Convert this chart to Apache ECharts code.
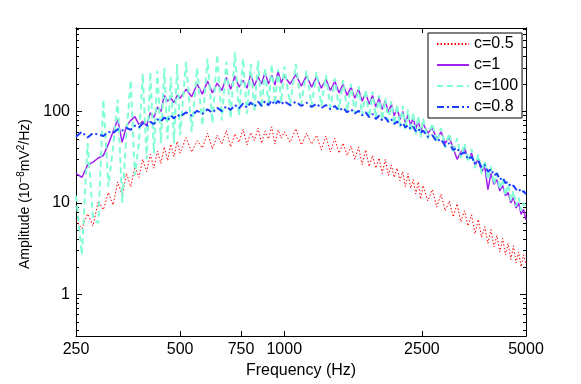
<!DOCTYPE html>
<html>
<head>
<meta charset="utf-8">
<script src="https://cdn.jsdelivr.net/npm/echarts@6/dist/echarts.min.js"></script>
<style>
html, body { margin: 0; padding: 0; background: #fff; }
#chart { width: 581px; height: 384px; }
</style>
</head>
<body>
<div id="chart"></div>
<script>
// frequency bins (Hz)
var freq = [250,260,270,280,290,300,310,320,330,340,350,360,370,380,390,400,410,420,430,440,450,460,470,480,490,500,
    520,540,560,580,600,620,640,660,680,700,720,740,760,780,800,820,840,860,880,900,920,940,960,980,1000,
    1040,1080,1120,1160,1200,1240,1280,1320,1360,1400,1440,1480,1520,1560,1600,1640,1680,1720,1760,1800,1840,1880,1920,1960,2000,2040,2080,2120,2160,2200,2240,2280,2320,2360,2400,2440,2480,2520,
    2600,2680,2760,2840,2920,3000,3080,3160,3240,3320,3400,3480,3560,3640,3720,3800,3880,3960,4040,4120,4200,4280,4360,4440,4520,4600,4680,4760,4840,4920,5000];

// amplitude, 10^-8 mV^2/Hz
var ampC05 = [6.5,5.2,7.6,5.6,10.5,8.4,13,9.5,17,12,21,15,25,19,30,22,34,24,37,27,41,29,44,32,47,35,
    52,36,48,40,58,39,55,44,62,41,57,46,64,43,59,48,66,45,61,50,68,44,63,51,60,
    46,65,43,58,44,55,38,54,36,51,35,45,33,42,30,41,26,38,25,33,24,31,21,30,20,26,19,24,17.5,22,15,21,14.5,18,12.5,17,11,15.5,
    10.5,14,9,12.5,8.2,10.5,7,9.8,6.2,8.2,5.6,7.4,4.6,6.6,4.2,5.5,3.6,5.1,3.3,4.4,2.9,4.1,2.7,3.6,2.4,3.4,2.2,2.9,2.0,2.7,2.2];
var ampC1 = [21,19,26,28,31,33,44,60,82,46,70,80,88,72,78,70,97,86,112,100,150,130,140,125,150,140,
    175,145,200,155,215,160,205,170,235,175,245,185,220,180,255,190,240,200,270,200,250,195,275,205,245,
    200,255,190,245,185,240,180,225,170,215,160,200,150,185,140,175,130,160,120,150,112,140,105,130,98,120,90,110,82,100,75,92,70,86,64,80,60,74,
    58,66,50,60,45,52,40,30,36,40,30,35,26,30,22,25,14,21,16,18,13.5,15.5,12,13,10,11.5,8.8,10,7.5,8.5,6.5];
var ampC100 = [12,2.7,45,7,6,135,15,40,135,10,60,220,20,45,260,30,270,35,280,45,300,50,240,45,330,55,
    350,60,300,70,380,75,420,80,350,85,450,90,380,95,330,100,360,110,300,115,330,120,290,125,310,
    120,330,120,280,115,270,115,250,110,230,105,220,100,200,95,190,90,175,85,165,85,150,80,140,78,130,72,120,68,115,64,105,60,98,56,90,52,84,
    50,75,46,66,40,58,35,51,31,45,28,39,24,34,21,29,18,25,16,21.5,14,18.5,12,16,10.5,13.5,9.2,11.5,8.2,10,8.5];
var ampC08 = [53,60,52,58,56,54,60,58,64,62,66,63,70,67,74,70,77,73,82,78,86,80,90,84,93,88,
    98,90,102,94,106,97,110,101,114,104,118,108,122,110,126,113,128,115,130,117,132,118,131,119,130,
    117,128,115,125,112,122,109,118,106,115,102,110,98,106,95,102,91,98,87,94,83,90,80,86,77,82,73,78,70,75,67,71,64,68,61,65,58,62,
    53,55,47,50,42,45,38,40,34,36,30,32,27,29,24.5,26,22,23.5,20,21,18,19,16.5,17,15,15.5,14,14.5,13,13.5,12.5];

var seriesNames = ['c=0.5', 'c=1', 'c=100', 'c=0.8'];
var xTicks = [250, 500, 750, 1000, 2500, 5000];
var yMajor = [1, 10, 100];
var yMinor = [0.4,0.5,0.6,0.7,0.8,0.9,2,3,4,5,6,7,8,9,20,30,40,50,60,70,80,90,200,300,400,500,600,700,800];

function pairs(ys) {
    var out = [];
    for (var i = 0; i < freq.length; i++) out.push([freq[i], ys[i]]);
    return out;
}

var font = '"Liberation Sans", Arial, sans-serif';
var yMin = 0.35, yMax = 820;

function yAx(pos, ticks, len, labels) {
    return {
        type: 'log', logBase: 10, min: yMin, max: yMax, position: pos,
        axisLine: { show: true, lineStyle: { color: '#000', width: 1 } },
        axisTick: { show: true, inside: true, length: len, customValues: ticks, lineStyle: { color: '#000' } },
        axisLabel: {
            show: labels, customValues: ticks, margin: 6, color: '#000', fontSize: 16, fontFamily: font,
            formatter: function (v) { return String(v); }
        },
        splitLine: { show: false }
    };
}

var chart = echarts.init(document.getElementById('chart'));
var left0 = yAx('left', yMajor, 6, true);
left0.name = 'Amplitude (10{sup|\u22128}mV{sup|2}/Hz)';
left0.nameLocation = 'middle';
left0.nameGap = 31;
left0.nameTextStyle = {
    color: '#000', fontSize: 14, fontFamily: font,
    padding: [0, 24, 0, 0],
    rich: { sup: { fontSize: 10, fontFamily: font, color: '#000', padding: [0, 0, 8, 0] } }
};

var option = {
    animation: false,
    backgroundColor: '#fff',
    grid: { left: 76, top: 28, right: 55, bottom: 46 },
    legend: {
        data: seriesNames,
        orient: 'vertical',
        left: 428, top: 33,
        backgroundColor: '#fff',
        borderColor: '#000', borderWidth: 1, borderRadius: 0,
        padding: [3, 4, 3, 8],
        itemWidth: 32, itemHeight: 14, itemGap: 5,
        itemStyle: { opacity: 0 },
        textStyle: { color: '#000', fontSize: 16, fontFamily: font }
    },
    xAxis: [{
        type: 'log', logBase: 10, min: 250, max: 5000, position: 'bottom',
        axisLine: { show: true, lineStyle: { color: '#000', width: 1 } },
        axisTick: { show: true, inside: true, length: 5, customValues: xTicks, lineStyle: { color: '#000' } },
        axisLabel: {
            customValues: xTicks, margin: 6, color: '#000', fontSize: 16, fontFamily: font,
            formatter: function (v) { return String(v); }
        },
        splitLine: { show: false },
        name: 'Frequency (Hz)', nameLocation: 'middle', nameGap: 27,
        nameTextStyle: { color: '#000', fontSize: 16, fontFamily: font }
    }, {
        type: 'log', logBase: 10, min: 250, max: 5000, position: 'top',
        axisLine: { show: true, lineStyle: { color: '#000', width: 1 } },
        axisTick: { show: true, inside: true, length: 5, customValues: xTicks, lineStyle: { color: '#000' } },
        axisLabel: { show: false },
        splitLine: { show: false }
    }],
    yAxis: [
        left0,
        yAx('left', yMinor, 3, false),
        yAx('right', yMajor, 6, false),
        yAx('right', yMinor, 3, false)
    ],
    series: [{
        name: 'c=0.5', type: 'line', data: pairs(ampC05), showSymbol: false, symbol: 'none',
        lineStyle: { color: '#ff0000', width: 1, type: [1.5, 2] }, itemStyle: { color: '#ff0000' }
    }, {
        name: 'c=1', type: 'line', data: pairs(ampC1), showSymbol: false, symbol: 'none',
        lineStyle: { color: '#a020f0', width: 1.5, type: 'solid' }, itemStyle: { color: '#a020f0' }
    }, {
        name: 'c=100', type: 'line', data: pairs(ampC100), showSymbol: false, symbol: 'none',
        lineStyle: { color: '#7fffd4', width: 2, type: [6, 4] }, itemStyle: { color: '#7fffd4' }
    }, {
        name: 'c=0.8', type: 'line', data: pairs(ampC08), showSymbol: false, symbol: 'none',
        lineStyle: { color: '#1a3cff', width: 2, type: [7, 3, 2, 3] }, itemStyle: { color: '#1a3cff' }
    }]
};
chart.setOption(option);
</script>
</body>
</html>
